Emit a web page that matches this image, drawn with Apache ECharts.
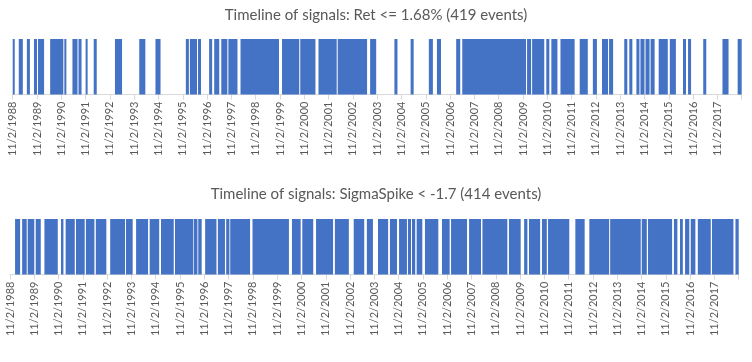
<!DOCTYPE html>
<html>
<head>
<meta charset="utf-8">
<script src="https://cdn.jsdelivr.net/npm/echarts@6/dist/echarts.min.js"></script>
<style>html,body{margin:0;padding:0;background:#fff}#c{width:752px;height:362px}</style>
</head>
<body>
<div id="c"></div>
<script>
// Axis: months since 11/2/1988, one tick label per year
const tickLabels = ['11/2/1988','11/2/1989','11/2/1990','11/2/1991','11/2/1992','11/2/1993','11/2/1994','11/2/1995','11/2/1996','11/2/1997','11/2/1998','11/2/1999','11/2/2000','11/2/2001','11/2/2002','11/2/2003','11/2/2004','11/2/2005','11/2/2006','11/2/2007','11/2/2008','11/2/2009','11/2/2010','11/2/2011','11/2/2012','11/2/2013','11/2/2014','11/2/2015','11/2/2016','11/2/2017'];
const titles = ['Timeline of signals: Ret <= 1.68% (419 events)', 'Timeline of signals: SigmaSpike < -1.7 (414 events)'];
// Signal periods [start, end] in months since 11/2/1988
const retPeriods = [[0,1],[3,5],[7,8.5],[10.5,12],[12.5,15.5],[18.5,25],[25.5,26.5],[29.5,32],[32.5,34],[36,37],[40,41.5],[50.5,54],[62.5,65.5],[70.5,73],[85.5,87],[87.5,91],[91.5,93],[97,98.5],[99.5,102],[103,106],[106.5,111],[112.5,131.5],[133,141.5],[142,149.5],[151,160],[160.5,175],[176.5,179.5],[188.5,190],[196.5,198],[205.5,207.5],[209.5,211.5],[219,221],[222,253.5],[254,256],[256.5,262.5],[263.5,265],[266,269],[270.5,277.5],[280,284],[286.5,288.5],[291,294],[294.5,296.5],[302,303.5],[304.5,306],[308,309.5],[310,312],[312.5,314.5],[315,317],[319,323.5],[324.5,327.5],[331,332.5],[333.5,335],[341,342.5],[350.5,353.5],[358,360]];
const sigmaPeriods = [[2.5,5],[6,8.25],[8.75,12],[12.7,15.2],[17,23.6],[25.2,26.4],[27.5,32],[32.6,36.9],[37.5,41.7],[42.4,47.6],[49.5,56.8],[57.3,60.6],[62.3,68.2],[69,73.7],[74.6,80.9],[81.5,90.5],[90.8,92.6],[93,94.7],[96.4,102],[102.7,106.2],[106.8,108.4],[108.8,118.6],[119.8,137.8],[139.3,143.6],[144.4,149.8],[151.2,159.6],[160.5,167.4],[169.8,175],[176.3,179.3],[181.8,186.8],[187.7,191.2],[192.2,196.1],[196.6,198.1],[198.6,200.2],[200.9,203.7],[205,211.6],[213.4,217.2],[217.9,225.8],[226.8,232.7],[233.4,245.7],[246.5,252.3],[254,255.6],[256.4,261.9],[262.8,265.2],[265.8,276.3],[279.3,283.9],[286.2,296],[296.5,311.6],[312.1,314.6],[315.2,327.1],[328,329.7],[331,332.4],[333.5,335.6],[336.3,338.6],[339.8,346.2],[346.8,357.4],[358.4,360]];

const FONT = 'Lato';
const chart = echarts.init(document.getElementById('c'), null, {renderer:'canvas'});
function renderItem(params, api){
  const p0 = api.coord([api.value(0), 1]);
  const p1 = api.coord([api.value(1), 0]);
  return {type:'rect', shape:{x:p0[0], y:p0[1], width:p1[0]-p0[0], height:p1[1]-p0[1]}, style:{fill:'#4472C4'}};
}
function xAxis(idx){
  return {type:'value', gridIndex:idx, min:0, max:360, interval:12,
    axisLine:{show:true, lineStyle:{color:'#d9d9d9', width:1}},
    axisTick:{show:true, length:5, lineStyle:{color:'#d9d9d9'}},
    splitLine:{show:false},
    axisLabel:{rotate:90, margin:7, color:'#595959', fontFamily:FONT, fontSize:11,
      formatter: v => (v < 360 ? tickLabels[Math.round(v/12)] : '')}};
}
chart.setOption({
  animation:false,
  title:[
    {text:titles[0], left:'center', top:3, textStyle:{fontFamily:FONT, fontSize:15, fontWeight:'normal', color:'#595959'}},
    {text:titles[1], left:'center', top:182, textStyle:{fontFamily:FONT, fontSize:15, fontWeight:'normal', color:'#595959'}}
  ],
  grid:[
    {left:12.7, right:10.3, top:39, height:55.5},
    {left:10, right:13.3, top:219, height:55.5}
  ],
  xAxis:[xAxis(0), xAxis(1)],
  yAxis:[
    {type:'value', gridIndex:0, min:0, max:1, show:false},
    {type:'value', gridIndex:1, min:0, max:1, show:false}
  ],
  series:[
    {type:'custom', xAxisIndex:0, yAxisIndex:0, renderItem, encode:{x:[0,1]}, data:retPeriods},
    {type:'custom', xAxisIndex:1, yAxisIndex:1, renderItem, encode:{x:[0,1]}, data:sigmaPeriods}
  ]
});
</script>
</body>
</html>
